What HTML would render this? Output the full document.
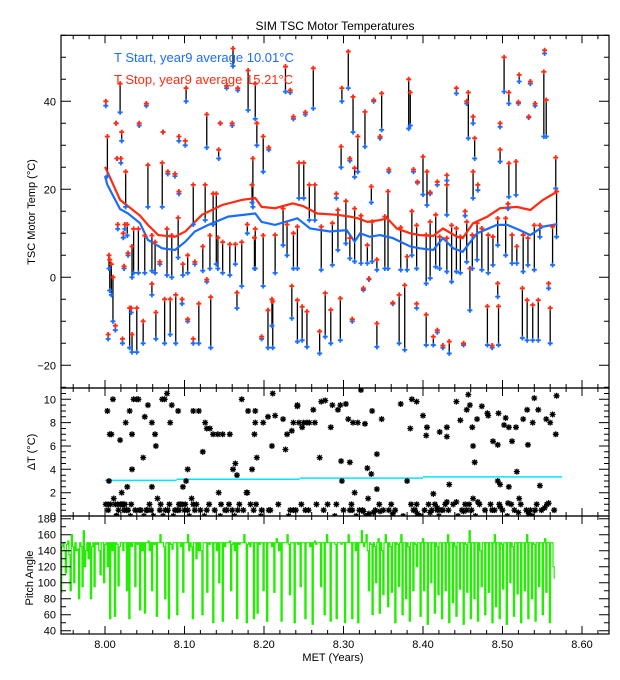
<!DOCTYPE html>
<html><head><meta charset="utf-8">
<style>
html,body{margin:0;padding:0;background:#fff;}
svg{display:block;font-family:"Liberation Sans",sans-serif;}
</style></head>
<body>
<svg id="chart" width="620" height="680" viewBox="0 0 620 680" xmlns="http://www.w3.org/2000/svg">
<rect width="620" height="680" fill="#fff"/>
<defs>
<clipPath id="clipTop"><rect x="61" y="35.3" width="548" height="352.7"/></clipPath>
<clipPath id="clipMid"><rect x="61" y="388" width="548" height="128"/></clipPath>
<clipPath id="clipBot"><rect x="61" y="516" width="548" height="118"/></clipPath>
</defs>
<text x="335" y="30" font-size="12" text-anchor="middle">SIM TSC Motor Temperatures</text>
<g id="gTop"></g>
<g id="gMid"></g>
<g id="gBot"></g>
<g id="gAxes"></g>
<text x="114" y="62" font-size="13" fill="#1a6cff">T Start, year9 average 10.01°C</text>
<text x="114" y="84" font-size="13" fill="#ff2a10">T Stop, year9 average 15.21°C</text>
<text transform="translate(35,212) rotate(-90)" font-size="11" text-anchor="middle">TSC Motor Temp (°C)</text>
<text transform="translate(35,452) rotate(-90)" font-size="11" text-anchor="middle">ΔT (°C)</text>
<text transform="translate(33,578) rotate(-90)" font-size="11" text-anchor="middle">Pitch Angle</text>
<text x="333" y="661" font-size="11" text-anchor="middle">MET (Years)</text>
</svg>
<script>
// ---- data ----
const eventTimes = [8.001,8.003,8.004,8.005,8.006,8.008,8.010,8.013,8.014,8.015,8.016,8.019,8.020,8.021,8.022,8.023,8.024,8.025,8.026,8.028,8.029,8.031,8.033,8.034,8.034,8.036,8.040,8.042,8.043,8.048,8.050,8.052,8.054,8.059,8.059,8.063,8.064,8.069,8.072,8.073,8.075,8.078,8.079,8.082,8.084,8.088,8.089,8.092,8.093,8.093,8.097,8.098,8.101,8.102,8.104,8.104,8.111,8.111,8.113,8.118,8.123,8.126,8.128,8.128,8.132,8.133,8.136,8.140,8.142,8.143,8.145,8.148,8.153,8.157,8.160,8.161,8.164,8.166,8.167,8.172,8.179,8.180,8.185,8.186,8.188,8.189,8.189,8.191,8.197,8.199,8.199,8.205,8.206,8.210,8.211,8.214,8.224,8.227,8.229,8.233,8.235,8.237,8.237,8.242,8.242,8.244,8.248,8.250,8.252,8.254,8.257,8.262,8.264,8.270,8.272,8.277,8.284,8.286,8.291,8.293,8.296,8.297,8.298,8.303,8.306,8.308,8.308,8.311,8.312,8.314,8.314,8.318,8.322,8.325,8.327,8.330,8.332,8.335,8.336,8.338,8.342,8.342,8.346,8.348,8.352,8.356,8.357,8.362,8.370,8.372,8.377,8.380,8.382,8.384,8.386,8.388,8.392,8.392,8.393,8.400,8.404,8.404,8.405,8.409,8.409,8.413,8.416,8.418,8.418,8.421,8.425,8.430,8.430,8.430,8.433,8.436,8.442,8.442,8.447,8.451,8.453,8.455,8.455,8.457,8.459,8.462,8.463,8.463,8.465,8.468,8.469,8.474,8.481,8.482,8.487,8.488,8.494,8.494,8.495,8.497,8.497,8.502,8.504,8.507,8.508,8.508,8.512,8.517,8.518,8.520,8.521,8.525,8.526,8.531,8.532,8.533,8.535,8.538,8.540,8.541,8.545,8.547,8.552,8.553,8.555,8.558,8.560,8.563,8.567,8.568];
const startTemps = [39,23,-14,2,-3,-4,-10,-12,35,27,11,37.5,26,31,-15,9,2,11,16,9.5,5,-16,-8,-17,0,1,-17,1,34.5,-15,1,39,16,1.5,-4,1,-14,3,16,33,-15,0.5,23.5,-13,0,23,-15,4.5,31,19,-6,0.5,30,40,1,-10,12,-15,3,-15,1.5,13,29.5,-1,2,-16,12,3,2,27,35,1,43,0.5,34.5,48,3,-7,42.5,-2,10,38,17,16,2,36,2,30,-14,24,-2,-16,29,-11,-16,1,7.3,42.2,5,42,-9.3,36,2,2,-14.6,18,-14.3,18,37,-15.8,13,38.4,13,-17.3,1.7,-13.5,-15,2.8,18,6.2,-14.3,25,40,7.7,43,4.3,26.5,-10,33,3.6,22.8,24,3.2,-2.9,29.7,3.2,-0.5,17,3.6,40,-15.8,1.7,31.6,33.5,2,2,24,-6,-15,1.7,-16.5,1.7,33.8,34.5,5,24,2,-7,21.5,18.8,-15.4,-1.4,16.4,-0.2,19,-15.4,2.4,21,-12.5,2,-16,22,14.2,1.3,-17.3,-1,41.8,1.3,1,-15.4,14,39.5,3.5,31.6,-7.5,2,35,18,27,4,19.8,1.7,-15.4,1,-16,2.8,7.3,-4.4,-15.4,26.3,34.2,42.2,5,15.6,18.3,39.5,3.2,18.7,3.2,39.5,44.5,-13.8,1.3,-14.3,2.8,36.3,44,-14.3,1.7,39,-14.3,9.2,32,50.9,32,-2.5,-15,2.8,20.2,9.2];
const stopTemps = [40,32,-13,5,4,3,0,-11,35,27,12,44,27,33,-14,10,2.5,12,24,12,5.5,-7,-7,-13,7,11,-7,11,35,-10,9.5,39.5,25.5,9.5,-1.5,8,-8,3.5,26,33,-5,11,24,-5,9.5,23.5,-4,13.5,32,19.5,-5,3,31,43,5,-9.5,21,-14,3.5,-6,7,21,37,-0.5,9.5,-4.5,19,19,9,29,35,8,43.5,7.5,35,52,7.5,-3.5,43,8,12,47,21,27,9,44,11,35,-13.5,32,9.5,-7.5,29.5,-5,-5.5,9.6,15.6,47.9,12,42.5,-2,36.5,10,11.5,-5.2,26,-6.7,26,37.5,-7.8,21,47.5,21,-12.3,11.5,-3.6,-7.4,12.3,19,15.3,-4.8,29.7,43,17.3,51.3,8.9,27,-9.5,41,15.6,24.8,32,14,-2.5,37.6,7.3,-0.3,20.6,12.6,40.3,-10.5,4,32,41.8,13.8,19.5,24.5,-5.8,-4,11.3,-1.8,4.7,45,42,15,24.5,11.8,-6,21.7,27.4,-8.5,9.6,24,12.6,19.3,-13.5,14.2,21.7,-12,9.2,-15.5,23.2,21,8.9,-14.6,11.8,43,11.1,9.2,-15,15,40,12.6,42,2,9.6,36.5,24,31.6,12.3,21,11.1,-6.6,9.6,-15.5,9.2,13.4,-1.4,-6.6,29,35,50,13.4,16.7,25.9,42,9.6,26.3,7,39.8,46,-2.5,9.6,-5.2,8.9,36.5,44.5,-6.3,11.8,39.5,-5.2,11.8,46.7,51.6,40.3,-1.4,-7,11.5,27.2,19.5];
// additional small-ΔT events visible only in the ΔT panel
const extraDtTimes = [8.004,8.007,8.011,8.017,8.020,8.027,8.032,8.038,8.045,8.049,8.053,8.056,8.058,8.061,8.066,8.070,8.076,8.081,8.086,8.091,8.095,8.100,8.106,8.109,8.115,8.120,8.125,8.131,8.138,8.146,8.151,8.156,8.163,8.169,8.174,8.178,8.183,8.187,8.190,8.196,8.208,8.218,8.231,8.240,8.247,8.256,8.266,8.275,8.280,8.289,8.300,8.310,8.316,8.320,8.324,8.328,8.331,8.340,8.345,8.350,8.360,8.365,8.375,8.385,8.390,8.397,8.402,8.407,8.411,8.415,8.420,8.423,8.428,8.432,8.438,8.444,8.449,8.458,8.461,8.466,8.471,8.478,8.485,8.490,8.496,8.500,8.506,8.511,8.515,8.523,8.530,8.537,8.543,8.549,8.556,8.565];
const extraDtValues = [0.5,1,1.5,0.5,1,0.5,0,0.5,0.5,0,0.5,1,0.5,0,1.5,1,0.5,1,0,0.5,1,0.5,0,1.5,1,0.5,0,1,0.5,1,0.5,1,0,1,0.5,2,1,0.5,1,0,0.5,1,0,0.5,1,0.5,1,0.5,1,0,0.5,1,0,0.5,0.5,0,1.5,0.5,1,0.5,1,0.5,0,1,0.5,0,0.5,1,0.5,1,0,0.5,1,0.5,1,0,0.5,1,0.5,0,1,0.5,1,0.5,1,0.5,0,1,0.5,1,0.5,0,1,0.5,1,0.5];
const startAvgTimes = [8.000,8.003,8.019,8.029,8.044,8.054,8.072,8.088,8.101,8.113,8.130,8.155,8.189,8.197,8.214,8.242,8.258,8.283,8.304,8.314,8.321,8.333,8.346,8.362,8.384,8.396,8.413,8.425,8.438,8.450,8.468,8.493,8.506,8.522,8.535,8.551,8.569];
const startAvgValues = [23,21,15.5,14.5,12.3,8.5,6.6,6.2,8.1,10.4,11.9,13.8,14.5,12.6,11.9,13.4,11.1,10.4,10.7,8.1,10,9.2,9.6,8.9,7,6.6,6.2,8.9,6.6,5.8,10,11.9,11.9,10.7,9.6,11.5,12.1];
const stopAvgTimes = [8.000,8.003,8.019,8.044,8.054,8.067,8.088,8.101,8.122,8.147,8.172,8.189,8.197,8.214,8.236,8.249,8.267,8.292,8.308,8.318,8.330,8.346,8.355,8.367,8.384,8.396,8.413,8.425,8.443,8.450,8.463,8.481,8.497,8.518,8.535,8.551,8.569];
const stopAvgValues = [25.1,24,17.6,14,11.9,9.6,9.2,10.4,14.2,16.4,17.6,18,16,15.7,16.8,16.2,14.5,14.2,13.8,13.4,12.6,13,13.4,11.1,10,9.6,9.4,11.1,9.2,8.9,12.3,13.8,15.7,16,15.3,17.6,19.5];
const dtAvgStarts = [8.000,8.090,8.245,8.400];
const dtAvgEnds = [8.090,8.245,8.400,8.575];
const dtAvgValues = [3.05,3.15,3.25,3.35];
const pitchStartTime = 7.944, pitchEndTime = 8.565;
const pitchValues = [88,145,150,140,112,148,152,135,90,160,145,100,150,140,142,80,150,145,95,165,120,140,150,130,150,80,145,150,95,150,148,150,140,110,150,150,100,148,150,120,150,55,150,140,150,58,150,148,96,145,150,150,140,150,150,90,150,55,150,145,150,150,95,150,148,150,66,150,140,150,62,150,150,152,140,150,90,150,148,150,58,150,150,160,150,150,145,80,150,150,55,150,148,142,150,150,150,60,150,150,145,150,88,150,150,150,160,140,150,145,55,150,150,130,150,140,150,140,60,150,150,150,88,150,148,150,150,50,150,150,140,150,100,150,150,52,150,145,150,150,150,152,90,148,150,140,150,55,150,148,150,150,150,160,150,50,148,150,145,150,150,55,150,150,62,150,148,150,150,90,150,150,52,150,150,150,145,150,88,150,155,150,140,150,52,150,150,150,150,160,148,85,150,150,150,50,150,150,148,150,95,150,150,150,55,150,150,150,145,150,48,150,152,148,150,150,150,95,150,150,60,150,160,150,150,52,150,150,150,148,55,150,150,150,148,150,150,50,150,150,160,150,150,55,150,150,140,150,50,150,150,165,150,145,150,160,140,90,150,148,60,150,145,100,150,155,62,150,140,85,150,160,150,70,150,145,88,150,150,50,150,148,95,150,160,60,150,150,80,150,145,52,150,150,90,150,148,120,150,150,58,150,155,90,150,150,48,150,150,100,150,150,62,150,145,85,150,150,55,150,150,90,150,160,50,150,150,75,150,145,58,150,150,92,150,150,48,150,148,88,150,165,55,150,150,80,150,150,52,150,140,95,150,150,60,150,150,88,150,150,50,150,160,70,150,150,55,150,148,92,150,150,48,150,150,100,150,145,58,150,150,86,150,150,50,150,150,90,150,160,55,150,150,80,150,148,52,150,150,95,150,150,60,150,155,88,150,150,50,150,150,120,105];
const xTickLabels = ["8.00","8.10","8.20","8.30","8.40","8.50","8.60"];
const tempTickLabels = ["40","20","0","−20"];
const dtTickLabels = ["0","2","4","6","8","10"];
const pitchTickLabels = ["40","60","80","100","120","140","160","180"];

// ---- scales ----
const NS = "http://www.w3.org/2000/svg";
const L = 61, R = 609;
const xS = t => 105 + (t - 8) * 795;
const yT = v => 277.3 - v * 4.4;
const yD = v => 516 - v * 11.67;
const yP = v => 630.7 - (v - 40) * 0.8;
function mk(tag, attrs, parent) {
  const e = document.createElementNS(NS, tag);
  for (const k in attrs) e.setAttribute(k, attrs[k]);
  parent.appendChild(e);
  return e;
}
const gTop = document.getElementById('gTop');
const gMid = document.getElementById('gMid');
const gBot = document.getElementById('gBot');
const gAx = document.getElementById('gAxes');

// top panel
const topC = mk('g', {'clip-path': 'url(#clipTop)'}, gTop);
function pathFrom(ts, vs, ys) {
  return ts.map((t, i) => (i ? 'L' : 'M') + xS(t).toFixed(1) + ' ' + ys(vs[i]).toFixed(1)).join(' ');
}
eventTimes.forEach((t, i) => {
  const x = xS(t);
  const ln = mk('line', {x1: x, x2: x, y1: yT(startTemps[i]), y2: yT(stopTemps[i]), stroke: '#000', 'stroke-width': 1.3}, topC);
  
  
});
const pAvgStop = mk('path', {d: pathFrom(stopAvgTimes, stopAvgValues, yT), fill: 'none', stroke: '#ff2a10', 'stroke-width': 2.2}, topC);


const pAvgStart = mk('path', {d: pathFrom(startAvgTimes, startAvgValues, yT), fill: 'none', stroke: '#1a6cff', 'stroke-width': 2.2}, topC);


function plus(x, y, col, parent, name) {
  const g = mk('path', {d: `M${x-2.5} ${y}H${x+2.5}M${x} ${y-2.5}V${y+2.5}`, stroke: col, 'stroke-width': 1.8, fill: 'none'}, parent);
  
  
}
eventTimes.forEach((t, i) => {
  const x = xS(t);
  plus(x, yT(startTemps[i]), '#1a6cff', topC, 'start-point');
  plus(x, yT(stopTemps[i]), '#ff2a10', topC, 'stop-point');
});

// middle panel
const midC = mk('g', {'clip-path': 'url(#clipMid)'}, gMid);
dtAvgValues.forEach((v, i) => {
  const s = mk('line', {x1: xS(dtAvgStarts[i]), x2: xS(dtAvgEnds[i]), y1: yD(v), y2: yD(v), stroke: '#00e5ff', 'stroke-width': 1.5}, midC);
  
  
});
function star(x, y) {
  const a = mk('path', {d: `M${x-3} ${y}H${x+3}M${x} ${y-3}V${y+3}M${x-2.2} ${y-2.2}L${x+2.2} ${y+2.2}M${x-2.2} ${y+2.2}L${x+2.2} ${y-2.2}`, stroke: '#000', 'stroke-width': 1.3, fill: 'none'}, midC);
  
  
}
eventTimes.forEach((t, i) => {
  const d = stopTemps[i] - startTemps[i];
  if (d <= 10.8) star(xS(t), yD(d));
});
extraDtTimes.forEach((t, i) => star(xS(t), yD(extraDtValues[i])));

// bottom panel
const botC = mk('g', {'clip-path': 'url(#clipBot)'}, gBot);
const pStep = (pitchEndTime - pitchStartTime) / (pitchValues.length - 1);
let pd = '';
pitchValues.forEach((v, i) => {
  const x = xS(pitchStartTime + i * pStep), y = yP(v);
  if (i === 0) pd += `M${x.toFixed(1)} ${y.toFixed(1)}`;
  else pd += `V${y.toFixed(1)}`;
  const xn = xS(pitchStartTime + (i + 1) * pStep);
  if (i < pitchValues.length - 1) pd += `H${xn.toFixed(1)}`;
});
const pp = mk('path', {d: pd, fill: 'none', stroke: '#22ee00', 'stroke-width': 1.2}, botC);



// axes & frames
const panels = [[35.3, 388], [388, 516], [516, 634]];
panels.forEach(([t, b], k) => {
  const r = mk('rect', {x: L, y: t, width: R - L, height: b - t, fill: 'none', stroke: '#000', 'stroke-width': 1.2}, gAx);
  
  
  let d = '';
  for (let i = -3; i <= 33; i++) {
    const tv = 8 + i * 0.02, x = xS(tv);
    if (x < L || x > R) continue;
    const len = (i % 5 === 0) ? 8 : 4;
    d += `M${x.toFixed(1)} ${t}v${len}M${x.toFixed(1)} ${b}v${-len}`;
  }
  mk('path', {d: d, stroke: '#000', 'stroke-width': 1}, gAx);
});
function yTicks(lo, hi, minor, major, ys, t, b) {
  let d = '';
  for (let v = lo; v <= hi + 1e-9; v += minor) {
    const y = ys(v);
    if (y < t - 0.1 || y > b + 0.1) continue;
    const len = (Math.abs(v / major - Math.round(v / major)) < 1e-6) ? 10 : 5;
    d += `M${L} ${y.toFixed(1)}h${len}M${R} ${y.toFixed(1)}h${-len}`;
  }
  mk('path', {d: d, stroke: '#000', 'stroke-width': 1}, gAx);
}
yTicks(-25, 55, 5, 20, yT, 35.3, 388);
yTicks(0, 11, 0.5, 2, yD, 388, 516);
yTicks(40, 180, 10, 20, yP, 516, 634);
function lbl(txt, x, y, anchor, name) {
  const e = mk('text', {x: x, y: y, 'font-size': 11, 'text-anchor': anchor}, gAx);
  e.textContent = txt;
  
  
}
tempTickLabels.forEach((s, i) => lbl(s, 56, yT(40 - 20 * i) + 4, 'end', 'temp-tick-label'));
dtTickLabels.forEach((s, i) => lbl(s, 56, yD(2 * i) + 4, 'end', 'delta-t-tick-label'));
pitchTickLabels.forEach((s, i) => lbl(s, 56, yP(40 + 20 * i) + 4, 'end', 'pitch-tick-label'));
xTickLabels.forEach((s, i) => lbl(s, xS(8 + 0.1 * i), 648, 'middle', 'x-tick-label'));
</script>
</body></html>
